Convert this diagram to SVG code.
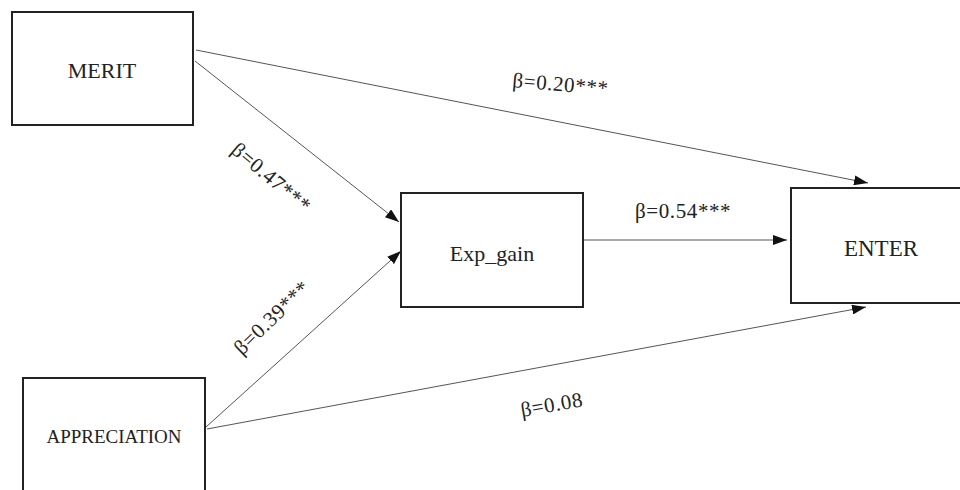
<svg xmlns="http://www.w3.org/2000/svg" width="960" height="490" viewBox="0 0 960 490">
<defs>
<marker id="arr" viewBox="0 0 14 10" refX="14" refY="5" markerWidth="14" markerHeight="10" markerUnits="userSpaceOnUse" orient="auto">
<path d="M0,0 L14,5 L0,10 Z" fill="#111"/>
</marker>
</defs>
<style>
.box{fill:#fff;stroke:#222;stroke-width:2}
.lbl{font-family:"Liberation Serif","Times New Roman",serif;fill:#222;text-anchor:middle}
.edge{stroke:#555;stroke-width:1;fill:none;marker-end:url(#arr)}
.beta{font-family:"Liberation Serif","Times New Roman",serif;font-size:21px;letter-spacing:0.6px;fill:#222}
</style>
<rect width="960" height="490" fill="#fff"/>
<g id="connectors">
<line class="edge" x1="196" y1="50" x2="868" y2="183"/>
<line class="edge" x1="195" y1="61" x2="399" y2="222"/>
<line class="edge" x1="206" y1="427" x2="401" y2="251"/>
<line class="edge" x1="207" y1="429" x2="866" y2="307"/>
<line class="edge" x1="583" y1="240" x2="787" y2="240"/>
<text class="beta" transform="translate(512,87) rotate(5)">β=0.20***</text>
<text class="beta" transform="translate(230,152) rotate(40)">β=0.47***</text>
<text class="beta" transform="translate(242,356) rotate(-44)">β=0.39***</text>
<text class="beta" x="635" y="218">β=0.54***</text>
<text class="beta" transform="translate(522,417) rotate(-10)">β=0.08</text>
</g>
<g id="merit">
<rect class="box" x="12" y="12" width="181" height="113"/>
<text class="lbl" x="102" y="78" font-size="22">MERIT</text>
</g>
<g id="exp_gain">
<rect class="box" x="401" y="193" width="182" height="114"/>
<text class="lbl" x="492" y="261" font-size="22">Exp_gain</text>
</g>
<g id="enter">
<rect class="box" x="791" y="188" width="185" height="115"/>
<text class="lbl" x="881" y="256" font-size="23">ENTER</text>
</g>
<g id="appreciation">
<rect class="box" x="23" y="378" width="182" height="130"/>
<text class="lbl" x="114" y="443" font-size="19">APPRECIATION</text>
</g>
</svg>
